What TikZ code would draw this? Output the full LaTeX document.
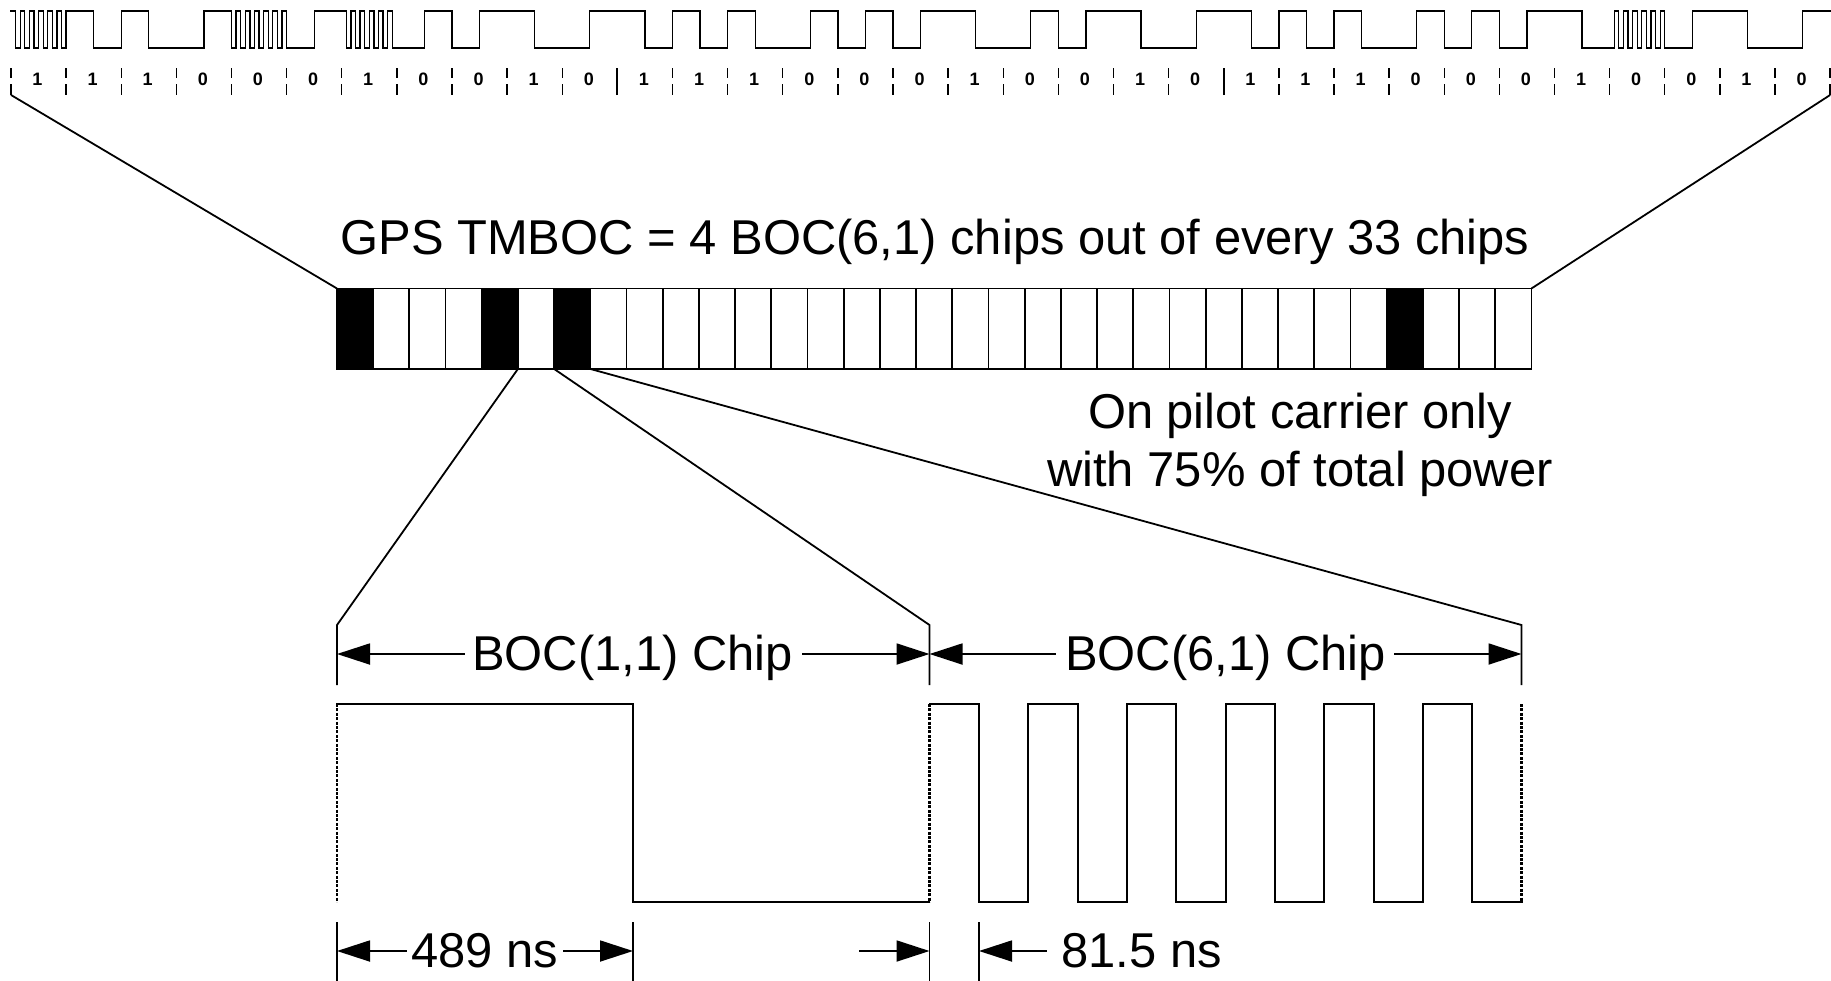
\documentclass[tikz,border=0pt]{standalone}
\usepackage{xcolor}
\usepackage{fontspec}
\usetikzlibrary{calc,arrows.meta}
\setmainfont{Liberation Sans}
\tikzset{
  chipcell/.style={draw, line width=1.9pt, minimum width=36.2pt, minimum height=80.5pt, inner sep=0pt, outer sep=0pt},
  wave/.style={line width=1.9pt, line cap=rect, line join=miter},
  topwave/.style={line width=1.3pt, line cap=rect},
  dimline/.style={line width=1.8pt},
  dimarrow/.style={line width=1.8pt, {Triangle[length=33pt,width=21pt]}-},
  dotline/.style={line width=2.8pt, dash pattern=on 3pt off 1.4pt},
  biglabel/.style={font=\fontsize{48.9}{58}\selectfont, inner sep=0pt, outer sep=0pt},
  bitlabel/.style={font=\fontsize{18}{20}\selectfont\bfseries, inner sep=0pt}
}

\begin{document}
\begin{tikzpicture}[x=1pt, y=-1pt]
    \useasboundingbox (0,0) rectangle (1831,980);

    % 33 chips of the long code
    \xdef\lastlvl{11}
    \foreach \i/\b/\n in {0/1/12,1/1/2,2/1/2,3/0/2,4/0/12,5/0/2,6/1/12,7/0/2,8/0/2,9/1/2,10/0/2,
                          11/1/2,12/1/2,13/1/2,14/0/2,15/0/2,16/0/2,17/1/2,18/0/2,19/0/2,20/1/2,21/0/2,
                          22/1/2,23/1/2,24/1/2,25/0/2,26/0/2,27/0/2,28/1/2,29/0/12,30/0/2,31/1/2,32/0/2} {
      \pgfmathtruncatemacro\lastk{\n-1}
      \foreach \k in {0,...,\lastk} {
        \pgfmathsetmacro\xa{11+55.125*(\i+\k/\n)}
        \pgfmathsetmacro\xb{11+55.125*(\i+(\k+1)/\n)}
        \pgfmathsetmacro\lvl{ifthenelse(mod(\k,2)==\b,48,11)}
        \draw[topwave] (\xa,\lastlvl) -- (\xa,\lvl) -- (\xb,\lvl);
        \xdef\lastlvl{\lvl}
      }
      \node[bitlabel] (bit\i) at (37.5+55.125*\i,79) {\b};
    }

    % tick marks under the waveform
    \foreach \i in {0,...,33} {
      \coordinate (tick\i) at (11+55.125*\i,95);
      \draw[dimline, line width=1.4pt] (11+55.125*\i,68) -- (11+55.125*\i,78);
      \draw[dimline, line width=1.4pt] (11+55.125*\i,84) -- (tick\i);
    }
    \foreach \i in {11,22}
      \draw[dimline] (tick\i) -- ++(0,-27);

    % chip bar
    \foreach \i in {0,...,32}
      \node[chipcell] (cell\i) at (355+36.2*\i,328.7) {};
    \foreach \i in {0,4,6,29}
      \node[chipcell, fill=black] at (cell\i) {};
    \draw[dimline] (tick0) -- (cell0.north west);
    \draw[dimline] (tick33) -- (cell32.north east);

    \node[biglabel] (title) at (935,242) {GPS TMBOC = 4 BOC(6,1) chips out of every 33 chips};
    \node[biglabel, align=center] (power) at (1300,444.5) {On pilot carrier only\\with 75\% of total power};

    % expanded chips
    \coordinate (boc1a) at (337,625);
    \coordinate (boc6a) at (929.5,625);
    \coordinate (boc6b) at (1521.5,625);
    \draw[dimline] (cell5.south west) -- (boc1a) -- ++(0,60);
    \draw[dimline] (cell6.south west) -- (boc6a) -- ++(0,60);
    \draw[dimline] (cell7.south west) -- (boc6b) -- ++(0,60);

    \node[biglabel, anchor=base] (boc1) at (632.5,670) {BOC(1,1) Chip};
    \node[biglabel, anchor=base] (boc6) at (1225.5,670) {BOC(6,1) Chip};
    \draw[dimarrow] (337,654) -- ([xshift=-7pt] boc1.west |- 0,654);
    \draw[dimarrow] (929.5,654) -- ([xshift=9pt] boc1.east |- 0,654);
    \draw[dimarrow] (929.5,654) -- ([xshift=-9pt] boc6.west |- 0,654);
    \draw[dimarrow] (1521.5,654) -- ([xshift=8pt] boc6.east |- 0,654);

    % waveforms
    \draw[wave] (337,704) -- (633,704) -- (633,902) -- (929.5,902);
    \draw[wave] (929.5,704)
      \foreach \c in {0,...,5} {
        -- (979+98.67*\c,704) -- (979+98.67*\c,902)
        -- (1028.33+98.67*\c,902)
        \ifnum\c<5 -- (1028.33+98.67*\c,704) \fi
      };
    \foreach \x in {337,929.5,1521.5}
      \draw[dotline] (\x,704) -- (\x,902);

    % durations
    \coordinate (low1) at (337,951);
    \coordinate (low2) at (633,951);
    \coordinate (low3) at (929.5,951);
    \coordinate (low4) at (979,951);
    \foreach \n in {low1,low2,low3,low4}
      \draw[dimline] ([yshift=-30pt] \n) -- ([yshift=29pt] \n);
    \node[biglabel, anchor=base] (t489) at (485,967) {489 ns};
    \node[biglabel, anchor=base] (t815) at (1141.5,967) {81.5 ns};
    \coordinate (free) at (859,951);
    \draw[dimarrow] (low1) -- ([xshift=-5pt] t489.west |- low1);
    \draw[dimarrow] (low2) -- ([xshift=5pt] t489.east |- low2);
    \draw[dimarrow] (low3) -- (free);
    \draw[dimarrow] (low4) -- ([xshift=-14pt] t815.west |- low4);
  \end{tikzpicture}
\end{document}
